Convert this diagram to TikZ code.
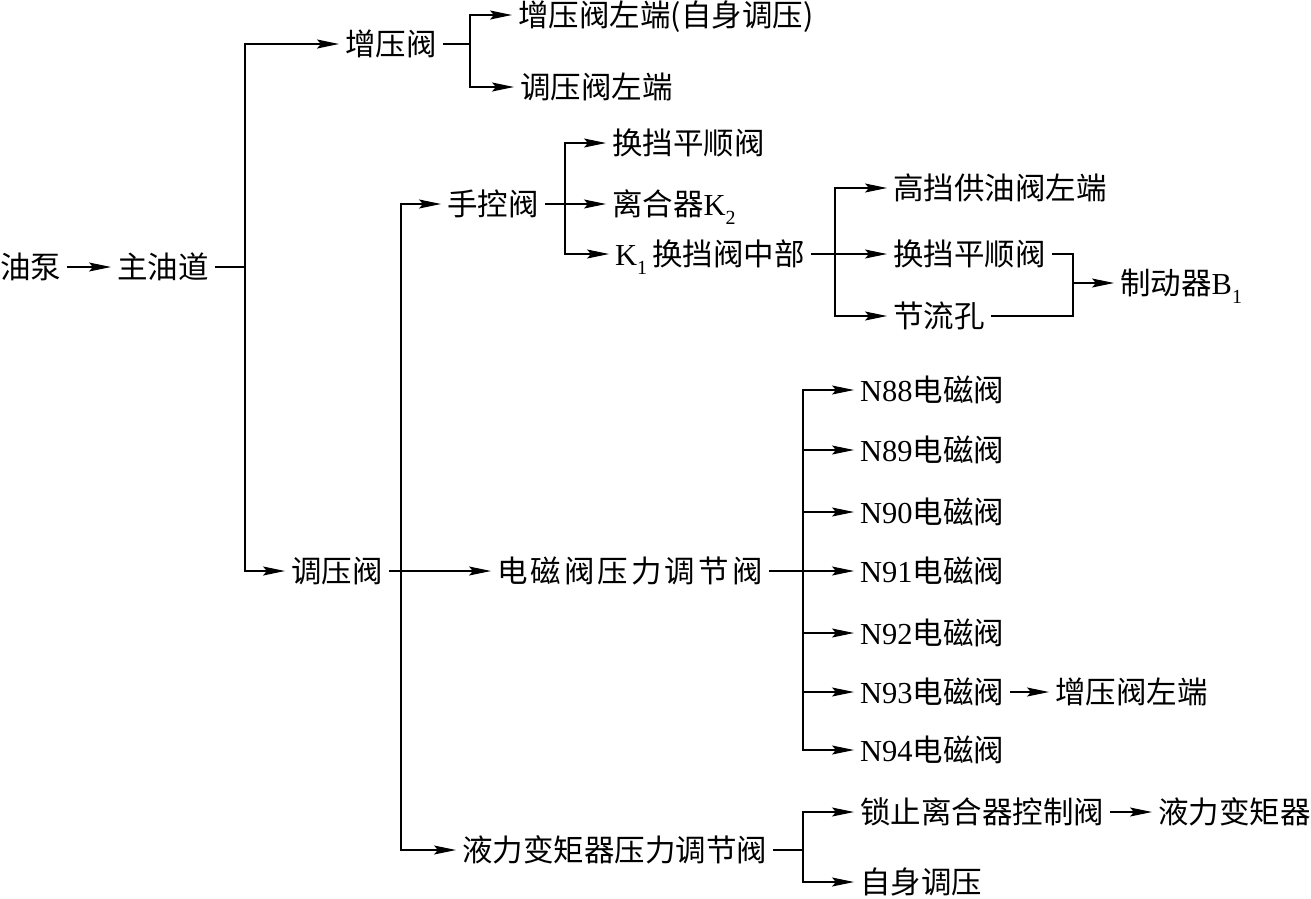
\documentclass[tikz,border=0pt]{standalone}
\usepackage{fontspec}
\setmainfont{Liberation Serif}
\newfontfamily\cjk{Noto Sans CJK SC}
\usetikzlibrary{arrows.meta}
\newcommand\lt[1]{{\rmfamily #1}}
\newcommand\sub[1]{\raisebox{-0.28em}{\rmfamily\fontsize{20}{20}\selectfont #1}}
\begin{document}
\begin{tikzpicture}[x=1pt,y=-1pt,
 lbl/.style={anchor=west,inner xsep=6pt,inner ysep=0pt,text height=26.8pt,text depth=3.7pt,font=\fontsize{30.5}{34}\selectfont\cjk},
 ln/.style={line width=1.1pt},
 thk/.style={line width=1.8pt},
 arr/.style={-{Stealth[length=22pt,width=9pt,inset=4pt]}}]
\useasboundingbox (0,0) rectangle (1311,898);
% nodes
\node[lbl] (yb)  at (-6,267) {油泵};
\node[lbl] (zyd) at (111,267) {主油道};
\node[lbl] (zya) at (339,44) {增压阀};
\node[lbl] (z1)  at (512,15) {增压阀左端(自身调压)};
\node[lbl] (z2)  at (514,87) {调压阀左端};
\node[lbl] (tya) at (285,571) {调压阀};
\node[lbl] (skf) at (441,204) {手控阀};
\node[lbl] (hd1) at (606,143) {换挡平顺阀};
\node[lbl] (lhq) at (606,204) {离合器\lt{K}\sub{2}};
\node[lbl] (k1)  at (609,254) {\lt{K}\sub{1}\,换挡阀中部};
\node[lbl] (gd)  at (887,188) {高挡供油阀左端};
\node[lbl] (hd2) at (887,254) {换挡平顺阀};
\node[lbl] (jl)  at (887,316) {节流孔};
\node[lbl] (zdq) at (1114,283) {制动器\lt{B}\sub{1}};
\node[lbl] (dcf) at (491,571) {\addfontfeature{LetterSpace=10}电磁阀压力调节阀};
\node[lbl] (n88) at (854,390) {\lt{N88}电磁阀};
\node[lbl] (n89) at (854,450) {\lt{N89}电磁阀};
\node[lbl] (n90) at (854,512) {\lt{N90}电磁阀};
\node[lbl] (n91) at (854,571) {\lt{N91}电磁阀};
\node[lbl] (n92) at (854,633) {\lt{N92}电磁阀};
\node[lbl] (n93) at (854,692) {\lt{N93}电磁阀};
\node[lbl] (n94) at (854,750) {\lt{N94}电磁阀};
\node[lbl] (zyl) at (1049,692) {增压阀左端};
\node[lbl] (ylf) at (456,850) {液力变矩器压力调节阀};
\node[lbl] (sz)  at (854,812) {锁止离合器控制阀};
\node[lbl] (ylb) at (1152,812) {液力变矩器};
\node[lbl] (zs)  at (854,882) {自身调压};
% junctions
\coordinate (a) at (245,267);
\coordinate (b) at (470,44);
\coordinate (c) at (401,571);
\coordinate (d) at (565,204);
\coordinate (e) at (835,254);
\coordinate (f) at (1073,283);
\coordinate (g) at (803,571);
\coordinate (h) at (803,850);
% connectors
\draw[ln,arr] (yb) -- (zyd);
\draw[thk] (zyd.east) -- (a);
\draw[thk,arr] (a) |- (zya.west);
\draw[thk,arr] (a) |- (tya.west);
\draw[thk] (zya.east) -- (b);
\draw[thk,arr] (b) |- (z1.west);
\draw[thk,arr] (b) |- (z2.west);
\draw[ln,arr] (tya.east) -- (dcf.west);
\draw[ln,arr] (c) |- (skf.west);
\draw[ln,arr] (c) |- (ylf.west);
\draw[ln,arr] (skf.east) -- (lhq.west);
\draw[ln,arr] (d) |- (hd1.west);
\draw[ln,arr] (d) |- (k1.west);
\draw[ln,arr] (k1.east) -- (hd2.west);
\draw[ln,arr] (e) |- (gd.west);
\draw[ln,arr] (e) |- (jl.west);
\draw[ln] (hd2.east) -| (f);
\draw[ln] (jl.east) -| (f);
\draw[ln,arr] (f) -- (zdq.west);
\draw[ln,arr] (dcf.east) -- (n91.west);
\foreach \n in {n88,n89,n90,n92,n93,n94}{\draw[ln,arr] (g) |- (\n.west);}
\draw[ln,arr] (n93.east) -- (zyl.west);
\draw[ln] (ylf.east) -- (h);
\draw[ln,arr] (h) |- (sz.west);
\draw[ln,arr] (h) |- (zs.west);
\draw[ln,arr] (sz.east) -- (ylb.west);
\end{tikzpicture}
\end{document}
